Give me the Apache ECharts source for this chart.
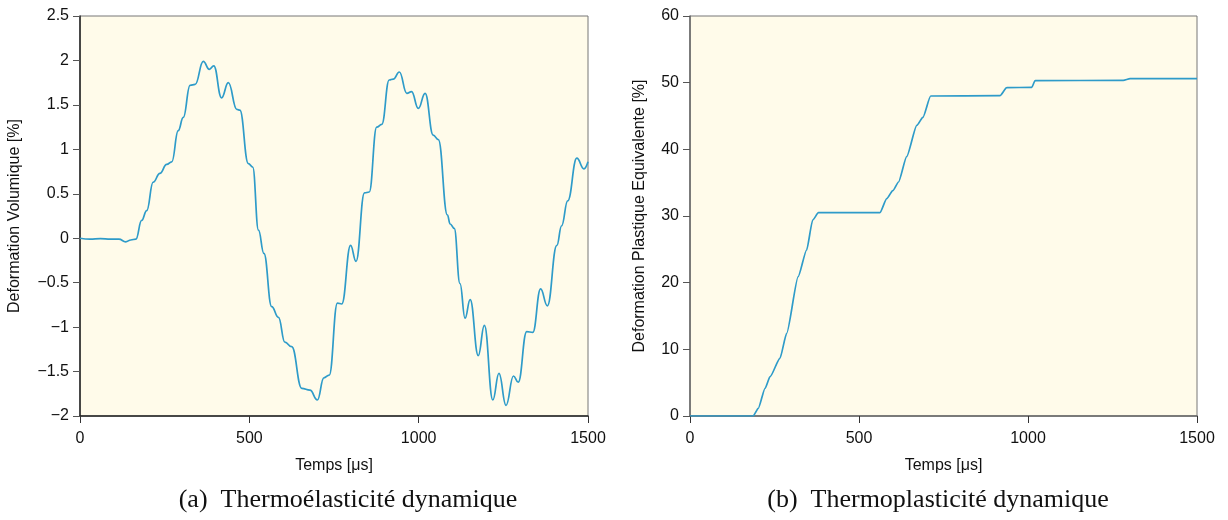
<!DOCTYPE html>
<html>
<head>
<meta charset="utf-8">
<script src="https://cdn.jsdelivr.net/npm/echarts@6/dist/echarts.min.js"></script>
<style>
  html, body { margin: 0; padding: 0; background: #fff; }
  #chart { width: 1228px; height: 520px; }
</style>
</head>
<body>
<div id="chart"></div>
<script>
// (a) déformation volumique
const timeA = [0, 30, 60, 90, 115, 135, 150, 165, 182, 197, 216, 236, 256, 271, 290, 305, 325, 340, 364, 382, 395, 418, 438, 463, 472, 497, 510, 527, 543, 566, 586, 605, 625, 655, 679, 701, 720, 736, 760, 773, 799, 815, 840, 854, 876, 891, 913, 925, 943, 965, 979, 999, 1019, 1043, 1058, 1085, 1093, 1105, 1122, 1137, 1152, 1176, 1194, 1219, 1237, 1258, 1280, 1294, 1319, 1337, 1360, 1380, 1408, 1422, 1440, 1467, 1488, 1500]
const volA = [0, -0.01, -0.005, -0.01, -0.01, -0.04, -0.02, -0.01, 0.2, 0.31, 0.63, 0.73, 0.83, 0.86, 1.21, 1.36, 1.72, 1.73, 1.99, 1.9, 1.94, 1.58, 1.75, 1.45, 1.44, 0.84, 0.8, 0.09, -0.17, -0.77, -0.89, -1.17, -1.22, -1.69, -1.71, -1.82, -1.57, -1.54, -0.73, -0.74, -0.08, -0.26, 0.51, 0.52, 1.25, 1.28, 1.78, 1.79, 1.87, 1.63, 1.65, 1.46, 1.63, 1.16, 1.11, 0.26, 0.16, 0.11, -0.51, -0.9, -0.69, -1.32, -0.98, -1.82, -1.52, -1.88, -1.55, -1.62, -1.05, -1.06, -0.57, -0.76, -0.08, 0.14, 0.42, 0.9, 0.78, 0.86]

// (b) déformation plastique équivalente
const timeB = [0, 187, 202, 222, 237, 266, 286, 320, 345, 363, 380, 562, 582, 600, 617, 641, 671, 689, 712, 917, 937, 1011, 1021, 1282, 1302, 1500]
const plastB = [0, 0, 1.15, 4.15, 5.9, 8.65, 12.4, 20.9, 24.9, 29.4, 30.5, 30.5, 32.6, 33.8, 35.1, 38.9, 43.6, 44.8, 48.0, 48.05, 49.25, 49.3, 50.3, 50.35, 50.6, 50.6]

const xTicks = [0, 500, 1000, 1500]
const captions = ['(a)  Thermoélasticité dynamique', '(b)  Thermoplasticité dynamique']

const lineColor = '#2e9bc9'
const labelFont = 'Liberation Sans, Arial, sans-serif'
const captionFont = 'Liberation Serif, Times New Roman, serif'
const minus = v => String(v).replace('-', '\u2212')

const xAxisCfg = (idx) => ({
  type: 'value',
  gridIndex: idx,
  min: xTicks[0],
  max: xTicks[xTicks.length - 1],
  interval: 500,
  name: 'Temps [μs]',
  nameLocation: 'middle',
  nameGap: 42,
  nameTextStyle: {color: '#111', fontSize: 16, fontFamily: labelFont},
  axisLine: {show: true, onZero: false, lineStyle: {color: idx === 0 ? '#222' : '#666', width: 1.5}},
  axisTick: {show: true, inside: false, length: 7, lineStyle: {color: '#333'}},
  axisLabel: {color: '#111', fontSize: 16, fontFamily: labelFont, margin: 15, formatter: v => String(v)},
  splitLine: {show: false}
})

const yAxisCfg = (idx, opts) => Object.assign({
  type: 'value',
  gridIndex: idx,
  nameLocation: 'middle',
  nameTextStyle: {color: '#111', fontSize: 16, fontFamily: labelFont},
  axisLine: {show: true, onZero: false, lineStyle: {color: idx === 0 ? '#222' : '#666', width: 1.5}},
  axisTick: {show: true, inside: false, length: 7, lineStyle: {color: '#555'}},
  axisLabel: {color: '#111', fontSize: 16, fontFamily: labelFont, margin: 11, formatter: minus},
  splitLine: {show: false}
}, opts)

const chart = echarts.init(document.getElementById('chart'), null, {renderer: 'canvas'})

chart.setOption({
  animation: false,
  backgroundColor: '#fff',
  title: [
    {text: captions[0], left: 343, top: 482, textAlign: 'center',
      textStyle: {fontFamily: captionFont, fontSize: 26, fontWeight: 'normal', color: '#111'}},
    {text: captions[1], left: 933, top: 482, textAlign: 'center',
      textStyle: {fontFamily: captionFont, fontSize: 26, fontWeight: 'normal', color: '#111'}}
  ],
  grid: [
    {left: 80, right: 640, top: 16, bottom: 104, show: true, backgroundColor: '#fffbea', borderColor: '#777', borderWidth: 1},
    {left: 690, right: 31, top: 16, bottom: 104, show: true, backgroundColor: '#fffbea', borderColor: '#777', borderWidth: 1}
  ],
  xAxis: [xAxisCfg(0), xAxisCfg(1)],
  yAxis: [
    yAxisCfg(0, {min: -2, max: 2.5, interval: 0.5, name: 'Deformation Volumique [%]', nameGap: 57}),
    yAxisCfg(1, {min: 0, max: 60, interval: 10, name: 'Deformation Plastique Equivalente [%]', nameGap: 42})
  ],
  series: [
    {
      type: 'line', xAxisIndex: 0, yAxisIndex: 0,
      data: timeA.map((t, i) => [t, volA[i]]),
      showSymbol: false, smooth: 0.45, smoothMonotone: 'x',
      lineStyle: {color: lineColor, width: 1.7}
    },
    {
      type: 'line', xAxisIndex: 1, yAxisIndex: 1,
      data: timeB.map((t, i) => [t, plastB[i]]),
      showSymbol: false, smooth: 0.2, smoothMonotone: 'x',
      lineStyle: {color: lineColor, width: 1.7}
    }
  ]
})
</script>
</body>
</html>
